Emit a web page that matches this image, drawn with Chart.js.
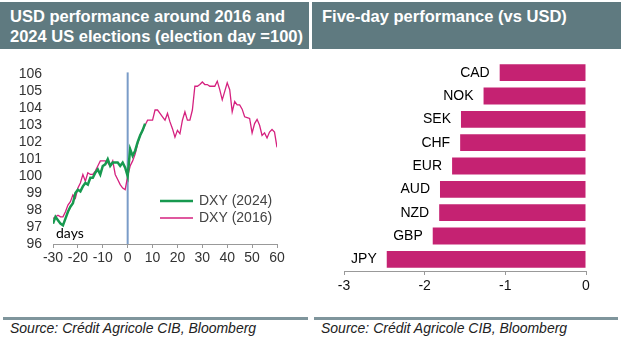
<!DOCTYPE html>
<html>
<head>
<meta charset="utf-8">
<script src="https://cdn.jsdelivr.net/npm/chart.js@4.4.1/dist/chart.umd.min.js"></script>
<style>
  body { margin: 0; background: #fff; font-family: "Liberation Sans", Arial, sans-serif; }
  #page { position: relative; width: 621px; height: 340px; overflow: hidden; }
  .head { position: absolute; top: 2px; height: 47px; background: #5f7a80; color: #fff;
          font-weight: bold; font-size: 16.5px; line-height: 20px; padding: 4px 0 0 10px; box-sizing: border-box; }
  .rule { position: absolute; top: 317px; height: 3px; background: #7f959c; }
  .src { position: absolute; top: 320px; font-style: italic; font-size: 14px; color: #222; }
  .box { position: absolute; }
</style>
</head>
<body>
<div id="page">
  <div class="head" style="left:0; width:309px;">USD performance around 2016 and<br>2024 US elections (election day =100)</div>
  <div class="head" style="left:312px; width:309px;">Five-day performance (vs USD)</div>

  <div class="box" style="left:0; top:55px; width:310px; height:215px;"><canvas id="lineChart"></canvas></div>
  <div class="box" style="left:313px; top:55px; width:308px; height:240px;"><canvas id="barChart"></canvas></div>

  <div class="rule" style="left:3px; width:305px;"></div>
  <div class="rule" style="left:314px; width:304px;"></div>
  <div class="src" style="left:10px;">Source: Crédit Agricole CIB, Bloomberg</div>
  <div class="src" style="left:321px;">Source: Crédit Agricole CIB, Bloomberg</div>
</div>

<script>
// DXY rebased to election day = 100, one value per trading day
var dxy2024Start = -30;
var dxy2024 = [97.2, 97.6, 97.4, 97.2, 97.1, 97.5, 97.9, 98.2, 98.4, 99.0,
  99.2, 99.1, 99.4, 99.6, 99.5, 99.9, 99.9, 100.2, 100.4, 100.1,
  100.6, 100.7, 101.0, 100.6, 100.8, 100.8, 100.8, 100.6, 100.8, 100.5,
  100.0, 101.6, 101.2, 101.5, 102.0, 102.4, 102.7, 103.1];

var dxy2016Start = -30;
var dxy2016 = [97.5, 97.6, 97.7, 97.6, 97.6, 97.9, 98.3, 98.5, 98.9, 98.7,
  99.3, 99.6, 100.1, 99.7, 100.2, 100.1, 100.1, 100.3, 100.6, 100.9,
  100.9, 100.9, 100.8, 100.6, 100.9, 100.1, 99.8, 99.5, 99.3, 99.2,
  100.0, 100.6, 100.9, 101.3, 101.9, 102.4, 102.7, 103.0, 103.3, 103.3,
  103.3, 103.9, 103.9, 103.7, 103.5, 103.3, 103.7, 103.2, 102.8, 102.3,
  102.7, 102.5, 103.3, 103.8, 103.3, 103.3, 103.9, 105.3, 105.3, 105.4,
  105.55, 105.4, 105.4, 105.3, 105.3, 105.3, 105.6, 105.1, 104.5, 105.0,
  105.5, 105.1, 103.8, 104.4, 104.2, 104.2, 103.95, 103.5, 103.45, 103.4,
  102.55, 103.1, 103.35, 103.0, 102.4, 102.55, 102.25, 102.6, 102.75, 102.6,
  101.7];

// five-day change vs USD, %
var currencies = ['CAD', 'NOK', 'SEK', 'CHF', 'EUR', 'AUD', 'NZD', 'GBP', 'JPY'];
var fiveDay = [-1.07, -1.27, -1.55, -1.56, -1.66, -1.81, -1.82, -1.90, -2.47];

var seriesNames = ['DXY (2024)', 'DXY (2016)'];
var seriesColors = ['#17994f', '#d5217f'];

function toPoints(start, values) {
  return values.map(function(v, i) { return { x: start + i, y: v }; });
}

var tickFont = { family: 'Liberation Sans, Arial, sans-serif', size: 14 };

// vertical marker on election day plus the "days" note and in-chart legend
var electionDay = {
  id: 'electionDay',
  beforeDatasetsDraw: function(chart) {
    var c = chart.ctx, xs = chart.scales.x, area = chart.chartArea;
    var x0 = xs.getPixelForValue(0);
    c.save();
    c.strokeStyle = '#7a9cc8';
    c.lineWidth = 2;
    c.beginPath();
    c.moveTo(x0, area.top - 2);
    c.lineTo(x0, area.bottom);
    c.stroke();
    c.restore();
  },
  afterDraw: function(chart) {
    var c = chart.ctx;
    c.save();
    c.fillStyle = '#000';
    c.font = '14px Lato, "Open Sans", sans-serif';
    c.textBaseline = 'alphabetic';
    c.fillText('days', 56, 183);
    var rows = [146, 163];
    var widths = [2.5, 1.3];
    for (var i = 0; i < 2; i++) {
      c.strokeStyle = seriesColors[i];
      c.lineWidth = widths[i];
      c.beginPath();
      c.moveTo(160, rows[i]);
      c.lineTo(193, rows[i]);
      c.stroke();
      c.fillStyle = '#444';
      c.font = '14px "Liberation Sans", Arial, sans-serif';
      c.textBaseline = 'middle';
      c.fillText(seriesNames[i], 199, rows[i]);
    }
    c.restore();
  }
};

new Chart(document.getElementById('lineChart'), {
  type: 'line',
  data: {
    datasets: [{
      label: seriesNames[0],
      data: toPoints(dxy2024Start, dxy2024),
      borderColor: seriesColors[0],
      borderWidth: 2.5,
      pointRadius: 0,
      tension: 0,
      order: 0
    }, {
      label: seriesNames[1],
      data: toPoints(dxy2016Start, dxy2016),
      borderColor: seriesColors[1],
      borderWidth: 1.3,
      pointRadius: 0,
      tension: 0,
      order: 1
    }]
  },
  options: {
    responsive: true,
    maintainAspectRatio: false,
    animation: false,
    layout: { padding: { top: 13, right: 33, left: 0, bottom: 0 } },
    plugins: { legend: { display: false }, tooltip: { enabled: false } },
    scales: {
      x: {
        type: 'linear', min: -30, max: 60,
        ticks: { stepSize: 10, color: '#333', font: tickFont, padding: 2, maxRotation: 0, autoSkip: false },
        grid: { drawOnChartArea: false, drawTicks: true, tickLength: 4, color: '#999' },
        border: { color: '#999' },
        afterFit: function(s) { s.height = 26; }
      },
      y: {
        min: 96, max: 106,
        ticks: { stepSize: 1, color: '#333', font: tickFont, padding: 11, autoSkip: false },
        grid: { display: false, drawTicks: false },
        border: { display: false },
        afterFit: function(s) { s.width = 53; }
      }
    }
  },
  plugins: [electionDay]
});

// currency code written just left of each bar's end
var barLabels = {
  id: 'barLabels',
  afterDatasetsDraw: function(chart) {
    var c = chart.ctx;
    var meta = chart.getDatasetMeta(0);
    c.save();
    c.fillStyle = '#000';
    c.font = '14px "Liberation Sans", Arial, sans-serif';
    c.textAlign = 'right';
    c.textBaseline = 'middle';
    meta.data.forEach(function(bar, i) {
      c.fillText(currencies[i], bar.x - 10, bar.y);
    });
    c.restore();
  }
};

new Chart(document.getElementById('barChart'), {
  type: 'bar',
  data: {
    labels: currencies,
    datasets: [{
      data: fiveDay,
      backgroundColor: '#c52272',
      categoryPercentage: 1,
      barPercentage: 0.72
    }]
  },
  options: {
    indexAxis: 'y',
    responsive: true,
    maintainAspectRatio: false,
    animation: false,
    layout: { padding: { top: 6, right: 35, left: 31, bottom: 0 } },
    plugins: { legend: { display: false }, tooltip: { enabled: false } },
    scales: {
      x: {
        min: -3, max: 0,
        ticks: { stepSize: 1, color: '#111', font: tickFont, padding: 3 },
        grid: { drawOnChartArea: false, drawTicks: true, tickLength: 4, color: '#999' },
        border: { color: '#999' },
        afterFit: function(s) { s.height = 24; }
      },
      y: { display: false }
    }
  },
  plugins: [barLabels]
});
</script>
</body>
</html>
